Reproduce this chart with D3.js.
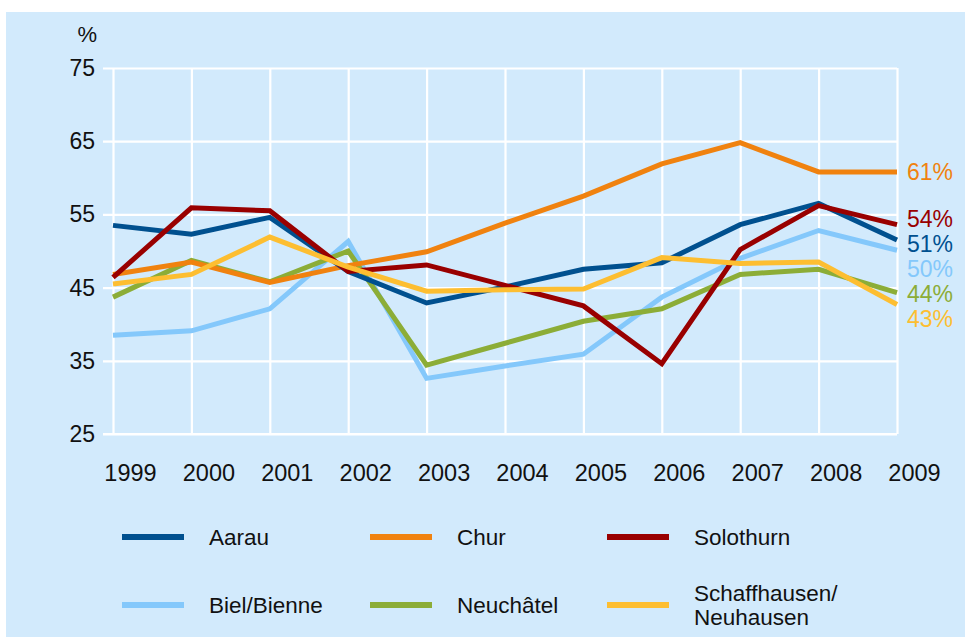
<!DOCTYPE html>
<html>
<head>
<meta charset="utf-8">
<script src="https://cdn.jsdelivr.net/npm/d3@7"></script>
<style>
  body { margin: 0; background: #fff; }
  text { font-family: "Liberation Sans", Arial, Helvetica, sans-serif; }
</style>
</head>
<body>
<svg width="965" height="637"></svg>
<script>
var years = [1999, 2000, 2001, 2002, 2003, 2004, 2005, 2006, 2007, 2008, 2009];
var yTicks = [25, 35, 45, 55, 65, 75];

var aarau       = [53.5, 52.3, 54.6, 47.2, 42.9, 45.1, 47.5, 48.4, 53.6, 56.5, 51.5];
var chur        = [46.8, 48.5, 45.7, 48.0, 49.9, 53.8, 57.5, 61.9, 64.8, 60.8, 60.8];
var solothurn   = [46.4, 55.9, 55.5, 47.2, 48.1, 45.3, 42.5, 34.6, 50.2, 56.2, 53.6];
var biel        = [38.5, 39.1, 42.1, 51.3, 32.6, 34.3, 35.9, 43.7, 49.0, 52.8, 50.1];
var neuchatel   = [43.7, 48.7, 45.8, 50.0, 34.4, 37.4, 40.4, 42.1, 46.8, 47.5, 44.3];
var schaffhausen= [45.5, 46.8, 51.9, 47.8, 44.5, 44.7, 44.8, 49.1, 48.3, 48.5, 42.7];

var names  = ["Aarau", "Chur", "Solothurn", "Biel/Bienne", "Neuchâtel", "Schaffhausen/\nNeuhausen"];
var endLabels = ["51%", "61%", "54%", "50%", "44%", "43%"];
var colors = ["#00508f", "#f0820f", "#990000", "#84c8fb", "#8cad37", "#fdbe31"];

var series = [aarau, chur, solothurn, biel, neuchatel, schaffhausen].map(function(v, i) {
  return {name: names[i], values: v, color: colors[i], label: endLabels[i]};
});

var svg = d3.select("svg");
svg.append("rect").attr("x", 6).attr("y", 12).attr("width", 959).attr("height", 625)
  .attr("fill", "#d2eafc");

var x = d3.scaleLinear().domain([1999, 2009]).range([113, 897]);
var y = d3.scaleLinear().domain([25, 75]).range([434, 68]);

// y grid + labels
var gy = svg.append("g").attr("transform", "translate(113,0)")
  .call(d3.axisLeft(y).tickValues(yTicks).tickSizeInner(-(897 - 113)).tickSizeOuter(0));
gy.select(".domain").remove();
gy.selectAll(".tick line").attr("x1", -10).attr("stroke", "#fff").attr("stroke-width", 2.2);
gy.selectAll(".tick text").attr("x", -18).attr("dy", "0.33em")
  .attr("font-size", 23).attr("fill", "#111").attr("font-family", null);

// x grid + labels
var gx = svg.append("g").attr("transform", "translate(0,434)")
  .call(d3.axisBottom(x).tickValues(years).tickFormat(d3.format("d"))
    .tickSizeInner(-(434 - 68)).tickSizeOuter(0));
gx.select(".domain").remove();
gx.selectAll(".tick line").attr("stroke", "#fff").attr("stroke-width", 2.2);
gx.selectAll(".tick text").attr("x", 17).attr("y", 47).attr("dy", 0)
  .attr("font-size", 23.5).attr("fill", "#111").attr("font-family", null);
svg.append("line").attr("x1", 103).attr("x2", 897).attr("y1", 434).attr("y2", 434)
  .attr("stroke", "#fff").attr("stroke-width", 2.2);

svg.append("text").attr("x", 97).attr("y", 42).attr("text-anchor", "end")
  .attr("font-size", 22).attr("fill", "#111").text("%");

var line = d3.line()
  .x(function(d, i) { return x(years[i]); })
  .y(function(d) { return y(d); });

var drawOrder = [3, 4, 1, 0, 2, 5];
svg.append("g").selectAll("path")
  .data(drawOrder.map(function(i) { return series[i]; }))
  .enter().append("path")
    .attr("d", function(d) { return line(d.values); })
    .attr("fill", "none")
    .attr("stroke", function(d) { return d.color; })
    .attr("stroke-width", 5)
    .attr("stroke-linejoin", "miter");

// end labels, pushed apart where they collide (mostly downwards)
var ends = series.map(function(s) {
  return {s: s, pos: y(s.values[s.values.length - 1])};
}).sort(function(a, b) { return a.pos - b.pos; });
for (var k = 0; k < 80; k++) {
  for (var j = 1; j < ends.length; j++) {
    var gap = ends[j].pos - ends[j - 1].pos;
    if (gap < 25) {
      var push = 25 - gap;
      ends[j].pos += push * 0.7;
      ends[j - 1].pos -= push * 0.3;
    }
  }
}
svg.append("g").selectAll("text")
  .data(ends)
  .enter().append("text")
    .attr("x", 907)
    .attr("y", function(d) { return d.pos; })
    .attr("dy", "0.35em")
    .attr("font-size", 23)
    .attr("fill", function(d) { return d.s.color; })
    .text(function(d) { return d.s.label; });

// legend
var legX = [122, 370, 607], legY = [537, 605];
var leg = svg.append("g").selectAll("g")
  .data(series)
  .enter().append("g")
    .attr("transform", function(d, i) {
      return "translate(" + legX[i % 3] + "," + legY[Math.floor(i / 3)] + ")";
    });
leg.append("line").attr("x1", 0).attr("x2", 62).attr("y1", 0).attr("y2", 0)
  .attr("stroke", function(d) { return d.color; }).attr("stroke-width", 6);
leg.append("text")
  .attr("x", 87)
  .attr("font-size", 22.5)
  .attr("fill", "#111")
  .each(function(d) {
    var parts = d.name.split("\n");
    var t = d3.select(this);
    parts.forEach(function(p, i) {
      t.append("tspan").attr("x", 87)
        .attr("y", (i - (parts.length - 1) / 2) * 24)
        .attr("dy", "0.35em").text(p);
    });
  });
</script>
</body>
</html>
